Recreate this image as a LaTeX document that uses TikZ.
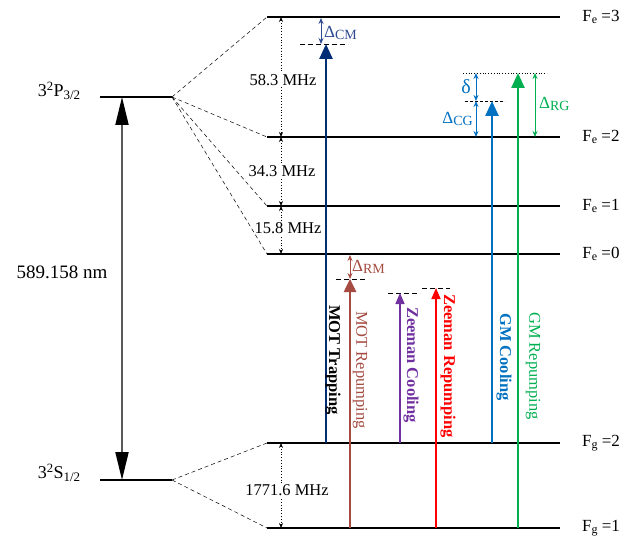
\documentclass[tikz,border=0pt]{standalone}
\usepackage{fontspec}
\setmainfont{Liberation Serif}
\usetikzlibrary{arrows.meta}
\definecolor{navy}{RGB}{0,45,115}
\definecolor{navyl}{RGB}{45,75,145}
\definecolor{mrbrown}{RGB}{165,75,65}
\definecolor{zcpurple}{RGB}{112,48,160}
\definecolor{zrred}{RGB}{255,0,0}
\definecolor{gmblue}{RGB}{0,112,192}
\definecolor{gmgreen}{RGB}{0,176,80}
\newcommand\mysub[2]{\raisebox{-0.32ex}{\fontsize{#1}{#1}\selectfont #2}}
\begin{document}
\begin{tikzpicture}[x=1pt,y=-1pt,
  level/.style={line width=2.5pt},
  fan/.style={dashed,line width=0.5pt,dash pattern=on 4pt off 3pt},
  freq/.style={dotted,line width=0.8pt,{Stealth[length=5pt,width=4pt]}-{Stealth[length=5pt,width=4pt]}},
  laser/.style={line width=2.5pt,-{Triangle[width=13pt,length=15pt]}},
  dlt/.style={line width=1pt,{Stealth[length=6pt,width=5pt]}-{Stealth[length=6pt,width=5pt]}},
  lab/.style={font=\fontsize{17}{20}\selectfont,inner sep=1pt},
  mhz/.style={font=\fontsize{16.5}{19}\selectfont,fill=white,inner sep=1pt},
  rlab/.style={font=\fontsize{16.5}{19}\selectfont,rotate=-90,inner sep=1pt},
  rlabb/.style={font=\bfseries\fontsize{16.5}{19}\selectfont,rotate=-90,inner sep=1pt},
  dlab/.style={font=\fontsize{17}{20}\selectfont,inner sep=1pt},
  thr/.style={line width=0.8pt,dash pattern=on 5pt off 3pt},
  thd/.style={line width=0.8pt,dotted}]
\useasboundingbox (0,0) rectangle (632,540);

% main levels
\coordinate (pL) at (100,97); \coordinate (pR) at (172,97);
\coordinate (sL) at (100,480); \coordinate (sR) at (172,480);
\draw[level] (pL) -- (pR);
\draw[level] (sL) -- (sR);
\coordinate (bigT) at (122,97); \coordinate (bigB) at (122,480);
\draw[line width=2pt,gray!70!black,{Triangle[width=13pt,length=28pt,fill=black,color=black]}-{Triangle[width=13pt,length=28pt,fill=black,color=black]}] (bigT) -- (bigB);
\node[lab,font=\fontsize{18}{21}\selectfont] (pl) at (59,91) {3\textsuperscript{2}P\mysub{13}{3/2}};
\node[lab,font=\fontsize{18}{21}\selectfont] (sl) at (59,473) {3\textsuperscript{2}S\mysub{13}{1/2}};
\node[lab,font=\fontsize{19}{22}\selectfont,fill=white] (wl) at (62,272) {589.158 nm};

% hyperfine levels
\foreach \n/\y in {e3/17,e2/137,e1/206,e0/254,g2/443,g1/528}{
  \coordinate (\n L) at (267,\y); \coordinate (\n R) at (560,\y);
  \draw[level] (\n L) -- (\n R);
}
\node[lab] (le3) at (601,17) {F\mysub{12}{e} =3};
\node[lab] (le2) at (601,137) {F\mysub{12}{e} =2};
\node[lab] (le1) at (601,206) {F\mysub{12}{e} =1};
\node[lab] (le0) at (601,254) {F\mysub{12}{e} =0};
\node[lab] (lg2) at (601,443) {F\mysub{12}{g} =2};
\node[lab] (lg1) at (601,528) {F\mysub{12}{g} =1};

% frequency separations
\coordinate (f3) at (281,17); \coordinate (f2) at (281,137); \coordinate (f1) at (281,206); \coordinate (f0) at (281,254);
\coordinate (fg2) at (281,443); \coordinate (fg1) at (281,528);
\draw[freq] (f3) -- (f2);
\draw[freq] (f2) -- (f1);
\draw[freq] (f1) -- (f0);
\draw[freq] (fg2) -- (fg1);
\node[mhz] (m1) at (283,80) {58.3 MHz};
\node[mhz] (m2) at (282,171) {34.3 MHz};
\node[mhz] (m3) at (288,228) {15.8 MHz};
\node[mhz] (m4) at (287,490) {1771.6 MHz};

% fan lines
\draw[fan] (pR) -- (e3L);
\draw[fan] (pR) -- (e2L);
\draw[fan] (pR) -- (e1L);
\draw[fan] (pR) -- (e0L);
\draw[fan] (sR) -- (g2L);
\draw[fan] (sR) -- (g1L);

% MOT trapping
\coordinate (mtB) at (326,443); \coordinate (mtT) at (326,44);
\coordinate (dcmL) at (300,44); \coordinate (dcmR) at (348,44);
\draw[thr] (dcmL) -- (dcmR);
\draw[laser,navy] (mtB) -- (mtT);
\coordinate (dcmT) at (321,18); \coordinate (dcmB) at (321,44);
\draw[dlt,navyl] (dcmT) -- (dcmB);
\node[dlab,navyl,anchor=west] (dcm) at (323,33) {Δ\mysub{14}{CM}};
\node[rlabb] (tmt) at (333,360) {MOT Trapping};

% MOT repumping
\coordinate (mrB) at (350,528); \coordinate (mrT) at (350,279);
\coordinate (drmL) at (336,279); \coordinate (drmR) at (365,279);
\draw[thr] (drmL) -- (drmR);
\draw[laser,mrbrown,-{Triangle[width=12pt,length=13pt]}] (mrB) -- (mrT);
\coordinate (drmT) at (350,255); \coordinate (drmB) at (350,279);
\draw[dlt,mrbrown,line width=0.8pt] (drmT) -- (drmB);
\node[dlab,mrbrown,anchor=west] (drm) at (351,267) {Δ\mysub{14}{RM}};
\node[rlab,mrbrown] (tmr) at (360,370) {MOT Repumping};

% Zeeman cooling
\coordinate (zcB) at (400,443); \coordinate (zcT) at (400,293);
\coordinate (zcL) at (388,293); \coordinate (zcR) at (420,293);
\draw[thr] (zcL) -- (zcR);
\draw[laser,zcpurple,line width=1.6pt,-{Triangle[width=9pt,length=11pt]}] (zcB) -- (zcT);
\node[rlabb,zcpurple] (tzc) at (411,365) {Zeeman Cooling};

% Zeeman repumping
\coordinate (zrB) at (436,528); \coordinate (zrT) at (436,288);
\coordinate (zrL) at (422,288); \coordinate (zrR) at (450,288);
\draw[thr] (zrL) -- (zrR);
\draw[laser,zrred,line width=1.6pt,-{Triangle[width=9pt,length=11pt]}] (zrB) -- (zrT);
\node[rlabb,zrred] (tzr) at (448,366) {Zeeman Repumping};

% GM cooling
\coordinate (gcB) at (492,443); \coordinate (gcT) at (492,101);
\coordinate (gcL) at (465,101); \coordinate (gcR) at (505,101);
\coordinate (grL) at (463,73); \coordinate (grR) at (547,73);
\draw[thr,dash pattern=on 3pt off 2pt] (gcL) -- (gcR);
\draw[thd] (grL) -- (grR);
\draw[laser,gmblue] (gcB) -- (gcT);
\coordinate (dA) at (476,73); \coordinate (dB) at (476,101); \coordinate (dC) at (476,137);
\draw[dlt,gmblue] (dA) -- (dB);
\draw[dlt,gmblue] (dB) -- (dC);
\node[dlab,gmblue,anchor=east,font=\fontsize{20}{22}\selectfont] (tdel) at (472,87) {δ};
\node[dlab,gmblue,anchor=east] (tdcg) at (474,119) {Δ\mysub{14}{CG}};
\node[rlabb,gmblue] (tgc) at (504,357) {GM Cooling};

% GM repumping
\coordinate (gmB) at (518,528); \coordinate (gmT) at (518,73);
\draw[laser,gmgreen] (gmB) -- (gmT);
\coordinate (rgT) at (535,73); \coordinate (rgB) at (535,137);
\draw[dlt,gmgreen] (rgT) -- (rgB);
\node[dlab,gmgreen,anchor=west] (tdrg) at (538,104) {Δ\mysub{14}{RG}};
\node[rlab,gmgreen] (tgr) at (533,366) {GM Repumping};
\end{tikzpicture}
\end{document}
